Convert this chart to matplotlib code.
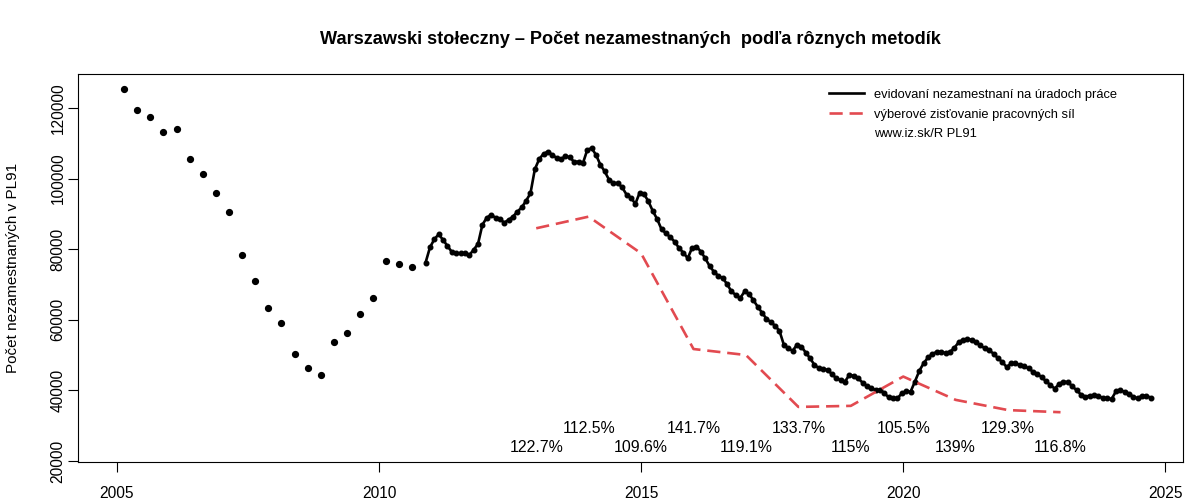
import numpy as np
import matplotlib.pyplot as plt
from matplotlib.lines import Line2D

plt.rcParams['font.family'] = ['Liberation Sans', 'DejaVu Sans']

# quarterly registered unemployment (dots only), starting 2005 Q1
q_start = 2005.14
quarterly = [125400, 119400, 117300, 113300, 114100, 105400, 101300, 95900,
             90500, 78300, 70900, 63300, 59200, 50300, 46300, 44300,
             53800, 56300, 61600, 66100, 76500, 75700, 75000]

# monthly registered unemployment, starting end of 2010
m_start = 2010.89
monthly = [76200, 80500, 82800, 84200, 82600, 80900, 79200, 78800, 78800, 78800,
           78300, 79800, 81500, 86900, 88900, 89700, 88900, 88500, 87500, 88300,
           89200, 90600, 91800, 93700, 95800, 102600, 105500, 107000, 107600, 106700,
           105800, 105500, 106300, 106000, 104700, 104800, 104300, 108100, 108600, 106700,
           103900, 102000, 99600, 98700, 98700, 97500, 95400, 94600, 92800, 96000,
           95600, 93500, 90800, 88500, 85600, 84500, 83400, 82100, 80300, 79000,
           77400, 80400, 80700, 79300, 77400, 75200, 73600, 72400, 71800, 70100,
           68000, 67000, 66100, 68000, 67300, 65600, 63700, 62000, 60300, 59300,
           58300, 56800, 52900, 51900, 51200, 52900, 52400, 50700, 49100, 47200,
           46300, 46000, 45800, 44600, 43400, 42900, 42500, 44400, 44100, 43400,
           42200, 41200, 40600, 40100, 40100, 39200, 38000, 37700, 37700, 39200,
           39700, 39600, 42500, 45500, 47700, 49300, 50300, 50900, 50800, 50600,
           50900, 52000, 53600, 54300, 54500, 54300, 53600, 52700, 51900, 51300,
           50400, 49100, 48000, 46600, 47600, 47600, 47200, 46900, 46200, 45300,
           44700, 43700, 42600, 41500, 40500, 41800, 42500, 42300, 41200, 40000,
           38800, 38200, 38500, 38600, 38300, 37900, 37700, 37500, 39700, 40000,
           39600, 38900, 38200, 37700, 38500, 38400, 37900]

# labour force survey (annual)
lfs_years = [2013, 2014, 2015, 2016, 2017, 2018, 2019, 2020, 2021, 2022, 2023]
lfs_values = [85900, 89200, 78800, 51700, 50000, 35300, 35600, 43900, 37300, 34400, 33800]
ratio_labels = ['122.7%', '112.5%', '109.6%', '141.7%', '119.1%', '133.7%',
                '115%', '105.5%', '139%', '129.3%', '116.8%']

q_x = q_start + 0.25 * np.arange(len(quarterly))
m_x = m_start + np.arange(len(monthly)) / 12.0

fig = plt.figure(figsize=(12, 5), dpi=100)
ax = fig.add_axes([0.065, 0.076, 0.921, 0.776])

red = '#e24a50'
ax.plot(q_x, quarterly, 'o', color='black', markersize=4.2, linestyle='none')
ax.plot(m_x, monthly, '-o', color='black', linewidth=1.9, markersize=3.3)
ax.plot(lfs_years, lfs_values, color=red, linewidth=1.9, dashes=(5, 2.6))

# ratio labels, alternating rows
for i, (yr, lab) in enumerate(zip(lfs_years, ratio_labels)):
    yv = 23700 if i % 2 == 0 else 29300
    ax.text(yr, yv, lab, ha='center', va='center', fontsize=11.4)

ax.set_xlim(2004.26, 2025.34)
ax.set_ylim(19700, 129600)
ax.set_xticks([2005, 2010, 2015, 2020, 2025])
ax.set_yticks([20000, 40000, 60000, 80000, 100000, 120000])
ax.set_yticklabels(['20000', '40000', '60000', '80000', '100000', '120000'],
                   rotation=90, va='center')
ax.tick_params(direction='out', length=7, width=0.8, labelsize=11.2)
ax.tick_params(axis='x', pad=10)
ax.tick_params(axis='y', pad=2)
for s in ax.spines.values():
    s.set_linewidth(0.8)

ax.set_ylabel('Počet nezamestnaných v PL91', fontsize=11, labelpad=22)
fig.suptitle('Warszawski stołeczny – Počet nezamestnaných  podľa rôznych metodík',
             x=0.525, y=0.937, fontsize=13.1, fontweight='bold')

handles = [Line2D([], [], color='black', linewidth=1.9),
           Line2D([], [], color=red, linewidth=1.9, dashes=(5, 2.6))]
handles.append(Line2D([], [], color='none'))
ax.legend(handles, ['evidovaní nezamestnaní na úradoch práce',
                    'výberové zisťovanie pracovných síl',
                    'www.iz.sk/R PL91'],
          loc='upper left', bbox_to_anchor=(0.675, 0.975), frameon=False,
          fontsize=9.3, handlelength=2.7, handletextpad=0.75,
          labelspacing=0.6, borderaxespad=0)

fig.savefig('out.png', dpi=100)
